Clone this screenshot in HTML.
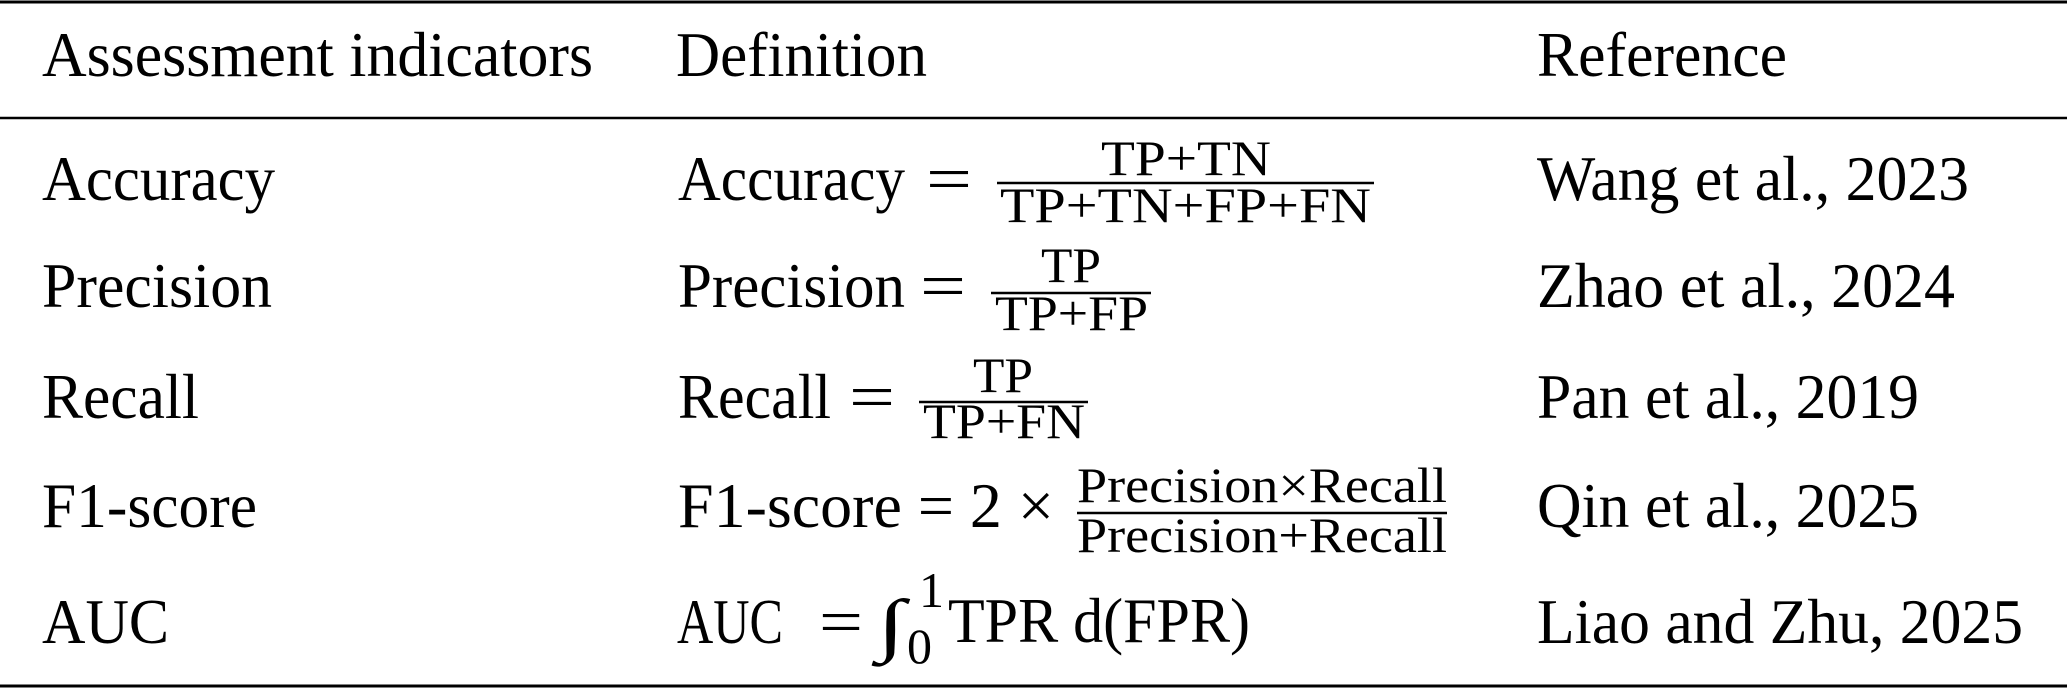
<!DOCTYPE html>
<html><head><meta charset="utf-8"><style>
html,body{margin:0;padding:0;background:#fff;}
svg{display:block;}
text{font-family:"Liberation Serif",serif;fill:#000;}
.b{font-size:64px;}
.f{font-size:50px;}
</style></head><body>
<svg width="2067" height="689" viewBox="0 0 2067 689" xmlns="http://www.w3.org/2000/svg">
<rect x="0" y="0" width="2067" height="689" fill="#fff"/>
<line x1="0" y1="2" x2="2067" y2="2" stroke="#000" stroke-width="3"/>
<line x1="0" y1="118" x2="2067" y2="118" stroke="#000" stroke-width="2.5"/>
<line x1="0" y1="686" x2="2067" y2="686" stroke="#000" stroke-width="3"/>

<text class="b" x="42" y="76" textLength="551" lengthAdjust="spacingAndGlyphs">Assessment indicators</text>
<text class="b" x="676" y="76" textLength="251" lengthAdjust="spacingAndGlyphs">Definition</text>
<text class="b" x="1537" y="76" textLength="250" lengthAdjust="spacingAndGlyphs">Reference</text>

<text class="b" x="42" y="200" textLength="233" lengthAdjust="spacingAndGlyphs">Accuracy</text>
<text class="b" x="42" y="307" textLength="230" lengthAdjust="spacingAndGlyphs">Precision</text>
<text class="b" x="42" y="418" textLength="157" lengthAdjust="spacingAndGlyphs">Recall</text>
<text class="b" x="42" y="527" textLength="215" lengthAdjust="spacingAndGlyphs">F1-score</text>
<text class="b" x="42" y="643" textLength="127" lengthAdjust="spacingAndGlyphs">AUC</text>

<text class="b" x="1537" y="200" textLength="432" lengthAdjust="spacingAndGlyphs">Wang et al., 2023</text>
<text class="b" x="1537" y="307" textLength="418" lengthAdjust="spacingAndGlyphs">Zhao et al., 2024</text>
<text class="b" x="1537" y="418" textLength="382" lengthAdjust="spacingAndGlyphs">Pan et al., 2019</text>
<text class="b" x="1537" y="527" textLength="382" lengthAdjust="spacingAndGlyphs">Qin et al., 2025</text>
<text class="b" x="1537" y="643" textLength="486" lengthAdjust="spacingAndGlyphs">Liao and Zhu, 2025</text>

<!-- Accuracy -->
<text class="b" x="678" y="200" textLength="227" lengthAdjust="spacingAndGlyphs">Accuracy</text>
<text class="b" x="926" y="200" textLength="46" lengthAdjust="spacingAndGlyphs">=</text>
<text class="f" x="1186" y="175" text-anchor="middle" textLength="170" lengthAdjust="spacingAndGlyphs">TP+TN</text>
<line x1="997" y1="183" x2="1374" y2="183" stroke="#000" stroke-width="2.5"/>
<text class="f" x="1000" y="222" textLength="371" lengthAdjust="spacingAndGlyphs">TP+TN+FP+FN</text>

<!-- Precision -->
<text class="b" x="678" y="307" textLength="227" lengthAdjust="spacingAndGlyphs">Precision</text>
<text class="b" x="920" y="307" textLength="46" lengthAdjust="spacingAndGlyphs">=</text>
<text class="f" x="1071" y="282" text-anchor="middle" textLength="60" lengthAdjust="spacingAndGlyphs">TP</text>
<line x1="991" y1="293" x2="1151" y2="293" stroke="#000" stroke-width="2.5"/>
<text class="f" x="995" y="330" textLength="153" lengthAdjust="spacingAndGlyphs">TP+FP</text>

<!-- Recall -->
<text class="b" x="678" y="418" textLength="153" lengthAdjust="spacingAndGlyphs">Recall</text>
<text class="b" x="849" y="418" textLength="46" lengthAdjust="spacingAndGlyphs">=</text>
<text class="f" x="1003" y="392" text-anchor="middle" textLength="60" lengthAdjust="spacingAndGlyphs">TP</text>
<line x1="919" y1="402" x2="1088" y2="402" stroke="#000" stroke-width="2.5"/>
<text class="f" x="923" y="438" textLength="162" lengthAdjust="spacingAndGlyphs">TP+FN</text>

<!-- F1 -->
<text class="b" x="678" y="527" textLength="376" lengthAdjust="spacingAndGlyphs">F1-score = 2 ×</text>
<text class="f" x="1077" y="502" textLength="370" lengthAdjust="spacingAndGlyphs">Precision×Recall</text>
<line x1="1077" y1="513" x2="1447" y2="513" stroke="#000" stroke-width="2.5"/>
<text class="f" x="1077" y="552" textLength="370" lengthAdjust="spacingAndGlyphs">Precision+Recall</text>

<!-- AUC -->
<text class="b" x="677" y="643" textLength="106" lengthAdjust="spacingAndGlyphs">AUC</text>
<text class="b" x="819" y="643" textLength="44" lengthAdjust="spacingAndGlyphs">=</text>
<text x="877" y="648" style="font-size:70px" textLength="28" lengthAdjust="spacingAndGlyphs">∫</text>
<text class="f" x="919" y="607">1</text>
<text class="f" x="907" y="663">0</text>
<text class="b" x="948" y="642" textLength="302" lengthAdjust="spacingAndGlyphs">TPR d(FPR)</text>
</svg>
</body></html>
